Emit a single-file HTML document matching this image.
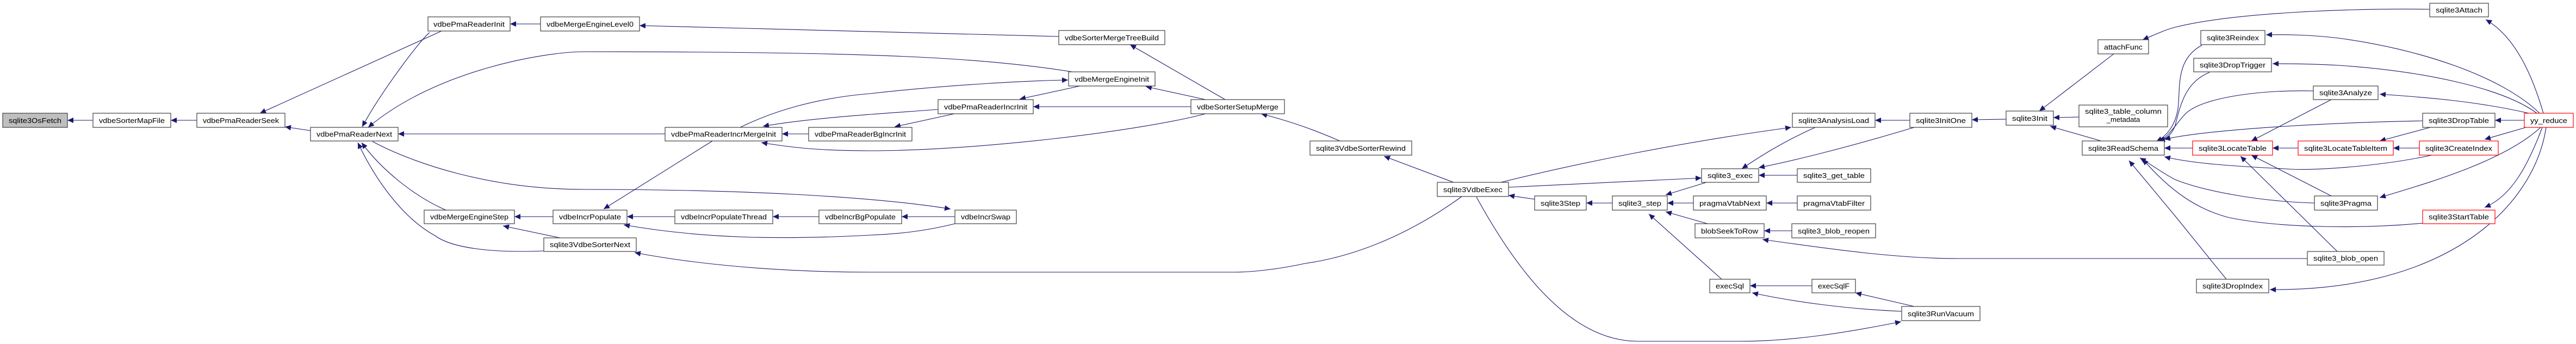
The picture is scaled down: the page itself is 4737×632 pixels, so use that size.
<!DOCTYPE html>
<html><head><meta charset="utf-8"><style>
html,body{margin:0;padding:0;background:#fff;}
svg{display:block;}
text{font-family:"Liberation Sans",sans-serif;font-size:13px;fill:#000;}
.n{fill:#fff;stroke:#404040;stroke-width:1.2;}
.r{fill:#fff;stroke:#ff0000;stroke-width:1.2;}
.g{fill:#bfbfbf;stroke:#404040;stroke-width:1.2;}
path.e{fill:none;stroke:#191970;stroke-width:1.1;marker-end:url(#a);}
</style></head><body>
<svg width="4737" height="632" viewBox="0 0 4737 632" xmlns="http://www.w3.org/2000/svg">
<defs><marker id="a" markerUnits="userSpaceOnUse" markerWidth="12" markerHeight="10" refX="11" refY="5" orient="auto"><path d="M0,0 L11,5 L0,10 z" fill="#191970"/></marker></defs>
<g>
<path class="e" d="M171,221 L124,221"/>
<path class="e" d="M362,221 L314,221"/>
<path class="e" d="M571,240 L524,233"/>
<path class="e" d="M812,57 L478,208"/>
<path class="e" d="M790,60 C775,70 700,170 666,233"/>
<path class="e" d="M1223,246 L732,246"/>
<path class="e" d="M1972,132 C1800,105 1600,95 1075,95 C1000,95 800,130 677,234"/>
<path class="e" d="M685,260 C760,300 900,348 1075,348 C1350,348 1600,360 1748,384"/>
<path class="e" d="M994,44 L938,44"/>
<path class="e" d="M1947,67 L1176,47"/>
<path class="e" d="M2253,183 L2078,82"/>
<path class="e" d="M2217,183 L2107,159"/>
<path class="e" d="M1986,158 L1875,182"/>
<path class="e" d="M2190,196 L1900,196"/>
<path class="e" d="M1755,209 L1645,233"/>
<path class="e" d="M1487,246 L1438,246"/>
<path class="e" d="M1725,201 C1650,207 1500,215 1403,232"/>
<path class="e" d="M2217,209 C2100,240 1800,277 1600,277 C1500,277 1450,270 1400,262"/>
<path class="e" d="M1361,234 C1420,205 1500,180 1600,172 C1750,155 1900,148 1964,147"/>
<path class="e" d="M1017,398 L946,398"/>
<path class="e" d="M1030,437 L925,415"/>
<path class="e" d="M1310,259 L1110,384"/>
<path class="e" d="M1241,398 L1153,398"/>
<path class="e" d="M1506,398 L1421,398"/>
<path class="e" d="M1756,398 L1658,398"/>
<path class="e" d="M1756,411 C1700,425 1650,430 1600,432 C1450,440 1300,440 1147,413"/>
<path class="e" d="M2688,361 C2600,425 2500,470 2400,484 C2350,495 2300,500 2270,500 L1600,500 C1400,500 1250,480 1167,464"/>
<path class="e" d="M1000,461 C900,465 830,455 800,433 C740,400 690,330 658,262"/>
<path class="e" d="M820,386 C760,360 700,310 665,262"/>
<path class="e" d="M2464,259 C2420,240 2380,225 2319,209"/>
<path class="e" d="M2673,335 L2545,287"/>
<path class="e" d="M2822,366 L2774,359"/>
<path class="e" d="M2774,344 L3129,327"/>
<path class="e" d="M2760,335 C2900,300 3100,260 3294,234"/>
<path class="e" d="M2715,362 C2780,480 2880,627 3012,627 L3200,627 C3300,627 3400,610 3496,591"/>
<path class="e" d="M2965,373 L2917,373"/>
<path class="e" d="M3138,335 L3063,358"/>
<path class="e" d="M3114,373 L3066,373"/>
<path class="e" d="M3140,411 L3063,389"/>
<path class="e" d="M3166,513 L3032,393"/>
<path class="e" d="M3338,234 C3280,260 3240,285 3203,310"/>
<path class="e" d="M3520,234 C3400,270 3300,295 3234,308"/>
<path class="e" d="M3305,322 L3234,322"/>
<path class="e" d="M3305,373 L3248,373"/>
<path class="e" d="M3295,424 L3244,424"/>
<path class="e" d="M4243,475 L3600,475 C3480,475 3350,455 3241,440"/>
<path class="e" d="M3332,525 L3218,525"/>
<path class="e" d="M3497,572 C3400,568 3300,555 3222,538"/>
<path class="e" d="M3520,563 L3412,538"/>
<path class="e" d="M3512,221 L3448,221"/>
<path class="e" d="M3689,219 L3626,220"/>
<path class="e" d="M3887,99 L3750,204"/>
<path class="e" d="M3823,215 L3776,216"/>
<path class="e" d="M3864,259 L3770,232"/>
<path class="e" d="M4468,17 C4300,15 4100,25 4000,50 C3980,55 3960,65 3940,73"/>
<path class="e" d="M4049,83 C4000,110 4010,160 4005,200 C4000,230 3985,250 3965,260"/>
<path class="e" d="M4063,133 C4020,150 4010,190 4000,230 C3995,245 3985,255 3970,259"/>
<path class="e" d="M4254,167 C4150,165 4050,180 4020,208 C4005,222 3990,250 3970,260"/>
<path class="e" d="M4455,222 C4300,225 4100,235 4000,252 L3980,256"/>
<path class="e" d="M4032,272 L3980,272"/>
<path class="e" d="M4472,285 C4380,305 4250,315 4200,310 C4100,305 4030,300 3980,288"/>
<path class="e" d="M4256,373 C4150,370 4050,350 4000,330 C3980,320 3960,305 3935,290"/>
<path class="e" d="M4455,410 C4350,420 4200,420 4100,400 C4040,385 3990,350 3940,292"/>
<path class="e" d="M4094,513 L4000,397 L3915,295"/>
<path class="e" d="M4677,208 C4660,150 4630,70 4571,36"/>
<path class="e" d="M4670,208 C4600,140 4450,90 4300,70 C4250,64 4200,63 4167,64"/>
<path class="e" d="M4665,208 C4600,160 4450,130 4300,120 C4250,117 4200,117 4179,117"/>
<path class="e" d="M4650,208 C4550,185 4450,178 4376,173"/>
<path class="e" d="M4642,221 L4588,221"/>
<path class="e" d="M4645,234 L4569,256"/>
<path class="e" d="M4672,234 C4600,300 4450,340 4376,363"/>
<path class="e" d="M4675,234 C4650,300 4620,360 4569,381"/>
<path class="e" d="M4682,234 C4660,380 4500,535 4174,532"/>
<path class="e" d="M4226,272 L4179,272"/>
<path class="e" d="M4449,272 L4401,272"/>
<path class="e" d="M4469,234 L4376,259"/>
<path class="e" d="M4287,183 L4140,259"/>
<path class="e" d="M4287,360 L4140,285"/>
<path class="e" d="M4298,462 L4120,287"/>
</g>
<g text-anchor="middle">
<rect class="g" x="5" y="208" width="119" height="26"/><text x="64.5" y="226" textLength="97" lengthAdjust="spacingAndGlyphs">sqlite3OsFetch</text>
<rect class="n" x="171" y="208" width="143" height="26"/><text x="242.5" y="226" textLength="121" lengthAdjust="spacingAndGlyphs">vdbeSorterMapFile</text>
<rect class="n" x="362" y="208" width="162" height="26"/><text x="443" y="226" textLength="140" lengthAdjust="spacingAndGlyphs">vdbePmaReaderSeek</text>
<rect class="n" x="571" y="234" width="161" height="25"/><text x="651.5" y="251" textLength="139" lengthAdjust="spacingAndGlyphs">vdbePmaReaderNext</text>
<rect class="n" x="787" y="31" width="151" height="26"/><text x="862.5" y="49" textLength="131" lengthAdjust="spacingAndGlyphs">vdbePmaReaderInit</text>
<rect class="n" x="994" y="31" width="182" height="26"/><text x="1085" y="49" textLength="160" lengthAdjust="spacingAndGlyphs">vdbeMergeEngineLevel0</text>
<rect class="n" x="1223" y="234" width="215" height="25"/><text x="1330.5" y="251" textLength="193" lengthAdjust="spacingAndGlyphs">vdbePmaReaderIncrMergeInit</text>
<rect class="n" x="1487" y="234" width="190" height="25"/><text x="1582" y="251" textLength="168" lengthAdjust="spacingAndGlyphs">vdbePmaReaderBgIncrInit</text>
<rect class="n" x="780" y="386" width="166" height="25"/><text x="863" y="403" textLength="144" lengthAdjust="spacingAndGlyphs">vdbeMergeEngineStep</text>
<rect class="n" x="1017" y="386" width="136" height="25"/><text x="1085" y="403" textLength="114" lengthAdjust="spacingAndGlyphs">vdbeIncrPopulate</text>
<rect class="n" x="1241" y="386" width="180" height="25"/><text x="1331" y="403" textLength="158" lengthAdjust="spacingAndGlyphs">vdbeIncrPopulateThread</text>
<rect class="n" x="1506" y="386" width="152" height="25"/><text x="1582" y="403" textLength="130" lengthAdjust="spacingAndGlyphs">vdbeIncrBgPopulate</text>
<rect class="n" x="1000" y="437" width="170" height="25"/><text x="1085" y="454" textLength="148" lengthAdjust="spacingAndGlyphs">sqlite3VdbeSorterNext</text>
<rect class="n" x="1947" y="56" width="195" height="26"/><text x="2044.5" y="74" textLength="173" lengthAdjust="spacingAndGlyphs">vdbeSorterMergeTreeBuild</text>
<rect class="n" x="1965" y="132" width="159" height="26"/><text x="2044.5" y="150" textLength="137" lengthAdjust="spacingAndGlyphs">vdbeMergeEngineInit</text>
<rect class="n" x="1725" y="183" width="175" height="26"/><text x="1812.5" y="201" textLength="153" lengthAdjust="spacingAndGlyphs">vdbePmaReaderIncrInit</text>
<rect class="n" x="2190" y="183" width="172" height="26"/><text x="2276" y="201" textLength="150" lengthAdjust="spacingAndGlyphs">vdbeSorterSetupMerge</text>
<rect class="n" x="1756" y="386" width="113" height="25"/><text x="1812.5" y="403" textLength="91" lengthAdjust="spacingAndGlyphs">vdbeIncrSwap</text>
<rect class="n" x="2409" y="259" width="187" height="26"/><text x="2502.5" y="277" textLength="165" lengthAdjust="spacingAndGlyphs">sqlite3VdbeSorterRewind</text>
<rect class="n" x="2643" y="335" width="131" height="26"/><text x="2708.5" y="353" textLength="109" lengthAdjust="spacingAndGlyphs">sqlite3VdbeExec</text>
<rect class="n" x="2822" y="360" width="95" height="26"/><text x="2869.5" y="378" textLength="73" lengthAdjust="spacingAndGlyphs">sqlite3Step</text>
<rect class="n" x="2965" y="360" width="101" height="26"/><text x="3015.5" y="378" textLength="79" lengthAdjust="spacingAndGlyphs">sqlite3_step</text>
<rect class="n" x="3129" y="310" width="105" height="25"/><text x="3181.5" y="327" textLength="83" lengthAdjust="spacingAndGlyphs">sqlite3_exec</text>
<rect class="n" x="3114" y="360" width="134" height="26"/><text x="3181" y="378" textLength="112" lengthAdjust="spacingAndGlyphs">pragmaVtabNext</text>
<rect class="n" x="3117" y="411" width="127" height="26"/><text x="3180.5" y="429" textLength="105" lengthAdjust="spacingAndGlyphs">blobSeekToRow</text>
<rect class="n" x="3144" y="513" width="74" height="25"/><text x="3181" y="530" textLength="52" lengthAdjust="spacingAndGlyphs">execSql</text>
<rect class="n" x="3296" y="208" width="152" height="26"/><text x="3372" y="226" textLength="130" lengthAdjust="spacingAndGlyphs">sqlite3AnalysisLoad</text>
<rect class="n" x="3512" y="208" width="114" height="26"/><text x="3569" y="226" textLength="92" lengthAdjust="spacingAndGlyphs">sqlite3InitOne</text>
<rect class="n" x="3689" y="204" width="87" height="26"/><text x="3732.5" y="222" textLength="65" lengthAdjust="spacingAndGlyphs">sqlite3Init</text>
<rect class="n" x="3858" y="73" width="93" height="26"/><text x="3904.5" y="91" textLength="71" lengthAdjust="spacingAndGlyphs">attachFunc</text>
<rect class="n" x="3823" y="193" width="163" height="40"/><text x="3904.5" y="209" textLength="141" lengthAdjust="spacingAndGlyphs">sqlite3_table_column</text><text x="3904.5" y="224">_metadata</text>
<rect class="n" x="3829" y="259" width="151" height="26"/><text x="3904.5" y="277" textLength="129" lengthAdjust="spacingAndGlyphs">sqlite3ReadSchema</text>
<rect class="n" x="3305" y="310" width="135" height="25"/><text x="3372.5" y="327" textLength="113" lengthAdjust="spacingAndGlyphs">sqlite3_get_table</text>
<rect class="n" x="3305" y="360" width="135" height="26"/><text x="3372.5" y="378" textLength="113" lengthAdjust="spacingAndGlyphs">pragmaVtabFilter</text>
<rect class="n" x="3295" y="411" width="154" height="26"/><text x="3372" y="429" textLength="132" lengthAdjust="spacingAndGlyphs">sqlite3_blob_reopen</text>
<rect class="n" x="3332" y="513" width="80" height="25"/><text x="3372" y="530" textLength="58" lengthAdjust="spacingAndGlyphs">execSqlF</text>
<rect class="n" x="3497" y="563" width="144" height="26"/><text x="3569" y="581" textLength="122" lengthAdjust="spacingAndGlyphs">sqlite3RunVacuum</text>
<rect class="n" x="4468" y="6" width="108" height="25"/><text x="4522" y="23" textLength="86" lengthAdjust="spacingAndGlyphs">sqlite3Attach</text>
<rect class="n" x="4047" y="56" width="118" height="26"/><text x="4106" y="74" textLength="96" lengthAdjust="spacingAndGlyphs">sqlite3Reindex</text>
<rect class="n" x="4034" y="107" width="143" height="25"/><text x="4105.5" y="124" textLength="121" lengthAdjust="spacingAndGlyphs">sqlite3DropTrigger</text>
<rect class="n" x="4254" y="158" width="119" height="25"/><text x="4313.5" y="175" textLength="97" lengthAdjust="spacingAndGlyphs">sqlite3Analyze</text>
<rect class="n" x="4455" y="208" width="133" height="26"/><text x="4521.5" y="226" textLength="111" lengthAdjust="spacingAndGlyphs">sqlite3DropTable</text>
<rect class="r" x="4642" y="208" width="90" height="26"/><text x="4687" y="226" textLength="68" lengthAdjust="spacingAndGlyphs">yy_reduce</text>
<rect class="r" x="4032" y="259" width="147" height="26"/><text x="4105.5" y="277" textLength="125" lengthAdjust="spacingAndGlyphs">sqlite3LocateTable</text>
<rect class="r" x="4226" y="259" width="175" height="26"/><text x="4313.5" y="277" textLength="153" lengthAdjust="spacingAndGlyphs">sqlite3LocateTableItem</text>
<rect class="r" x="4449" y="259" width="145" height="26"/><text x="4521.5" y="277" textLength="123" lengthAdjust="spacingAndGlyphs">sqlite3CreateIndex</text>
<rect class="n" x="4256" y="360" width="116" height="26"/><text x="4314" y="378" textLength="94" lengthAdjust="spacingAndGlyphs">sqlite3Pragma</text>
<rect class="r" x="4455" y="386" width="133" height="25"/><text x="4521.5" y="403" textLength="111" lengthAdjust="spacingAndGlyphs">sqlite3StartTable</text>
<rect class="n" x="4243" y="462" width="141" height="25"/><text x="4313.5" y="479" textLength="119" lengthAdjust="spacingAndGlyphs">sqlite3_blob_open</text>
<rect class="n" x="4039" y="513" width="133" height="25"/><text x="4105.5" y="530" textLength="111" lengthAdjust="spacingAndGlyphs">sqlite3DropIndex</text>
</g>
</svg>
</body></html>
